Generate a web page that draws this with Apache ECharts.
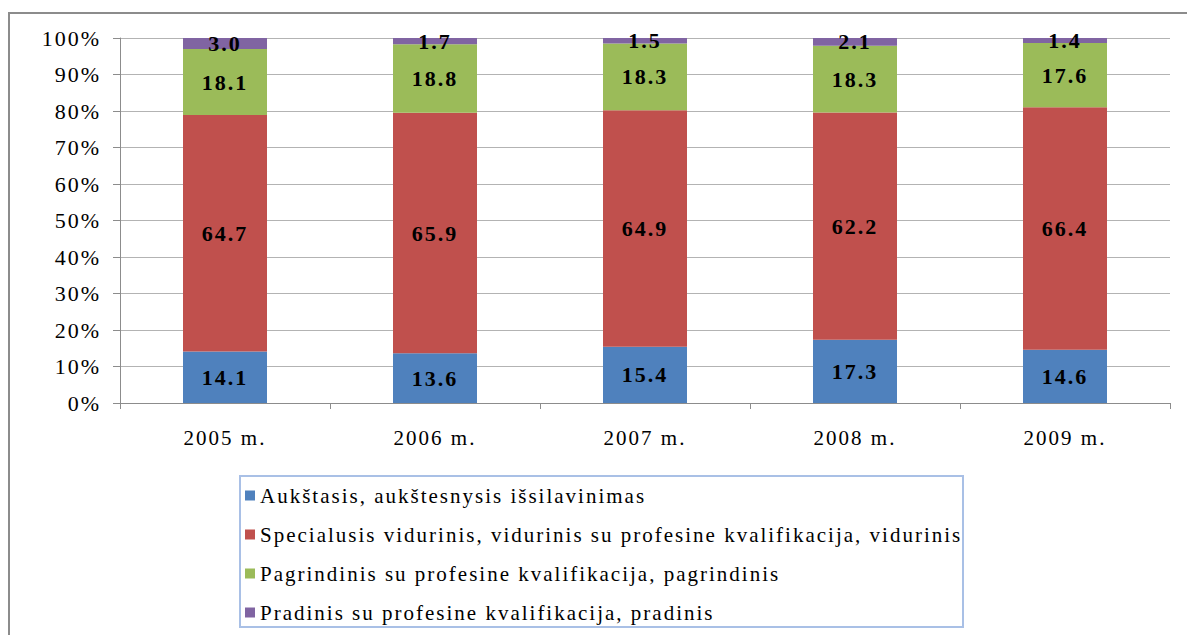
<!DOCTYPE html>
<html>
<head>
<meta charset="utf-8">
<script src="https://cdn.jsdelivr.net/npm/echarts@6/dist/echarts.min.js"></script>
<style>
  html, body { margin: 0; padding: 0; background: #fff; }
  #chart { width: 1187px; height: 635px; }
  /* reference text is set wide */
  #chart text { letter-spacing: 2px; }
</style>
</head>
<body>
<div id="chart"></div>
<script>
const years = ['2005 m.', '2006 m.', '2007 m.', '2008 m.', '2009 m.'];
const seriesNames = [
  'Aukštasis, aukštesnysis išsilavinimas',
  'Specialusis vidurinis, vidurinis su profesine kvalifikacija, vidurinis',
  'Pagrindinis su profesine kvalifikacija, pagrindinis',
  'Pradinis su profesine kvalifikacija, pradinis'
];
const aukstasis = [14.1, 13.6, 15.4, 17.3, 14.6];
const vidurinis = [64.7, 65.9, 64.9, 62.2, 66.4];
const pagrindinis = [18.1, 18.8, 18.3, 18.3, 17.6];
const pradinis = [3.0, 1.7, 1.5, 2.1, 1.4];
const colors = ['#4f81bd', '#c0504d', '#9bbb59', '#8064a2'];

const allValues = [aukstasis, vidurinis, pagrindinis, pradinis];
// 100% stack: share of each year's total
const totals = years.map((_, i) => allValues.reduce((s, arr) => s + arr[i], 0));

const font = "'Liberation Serif', 'Times New Roman', serif";

const chart = echarts.init(document.getElementById('chart'), null, { renderer: 'svg' });

const series = allValues.map((arr, k) => ({
  name: seriesNames[k],
  type: 'bar',
  stack: 'total',
  barWidth: '40%',
  itemStyle: { color: colors[k] },
  label: {
    show: true,
    position: 'inside',
    color: '#000',
    fontFamily: font,
    fontWeight: 'bold',
    fontSize: 22,
    formatter: (p) => arr[p.dataIndex].toFixed(1)
  },
  data: arr.map((v, i) => v / totals[i] * 100)
}));

chart.setOption({
  animation: false,
  textStyle: { fontFamily: font },
  graphic: [{
    type: 'rect',
    shape: { x: 9, y: 13, width: 1190, height: 640 },
    style: { fill: 'none', stroke: '#8c8c8c', lineWidth: 2 },
    silent: true
  }, {
    type: 'rect',
    shape: { x: 240, y: 476, width: 723, height: 151 },
    style: { fill: 'none', stroke: '#a9c0e6', lineWidth: 2 },
    silent: true
  }],
  grid: { left: 120, right: 17, top: 38, bottom: 232 },
  legend: {
    orient: 'vertical',
    left: 240,
    top: 480,
    width: 740,
    height: 200,
    padding: [5, 10, 5, 5],
    itemGap: 18,
    itemWidth: 10,
    itemHeight: 10,
    icon: 'rect',
    textStyle: { fontFamily: font, fontSize: 21, color: '#000' },
    data: seriesNames
  },
  xAxis: {
    type: 'category',
    data: years,
    axisLine: { lineStyle: { color: '#8c8c8c' } },
    axisTick: { show: true, length: 6, lineStyle: { color: '#8c8c8c' } },
    axisLabel: { color: '#000', fontSize: 21, fontFamily: font, margin: 24 }
  },
  yAxis: {
    type: 'value',
    min: 0,
    max: 100,
    interval: 10,
    axisLine: { show: true, lineStyle: { color: '#8c8c8c' } },
    axisTick: { show: true, length: 7, lineStyle: { color: '#8c8c8c' } },
    axisLabel: { color: '#000', fontSize: 22, fontFamily: font, margin: 19, formatter: '{value}%' },
    splitLine: { lineStyle: { color: '#b3b3b3' } }
  },
  series: series
});
</script>
</body>
</html>
